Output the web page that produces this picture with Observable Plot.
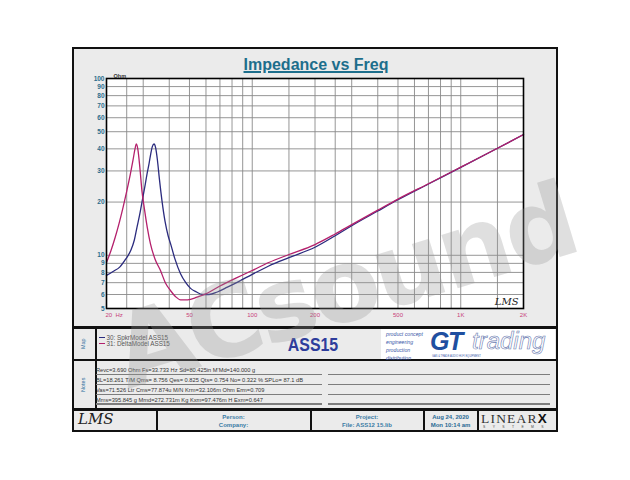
<!DOCTYPE html>
<html><head><meta charset="utf-8">
<script src="https://cdn.jsdelivr.net/npm/d3@7"></script>
<script src="https://cdn.jsdelivr.net/npm/@observablehq/plot@0.6"></script>
<style>
html,body{margin:0;padding:0;background:#fff;}
#page{position:relative;width:630px;height:480px;overflow:hidden;font-family:"Liberation Sans",Arial,sans-serif;}
.a{position:absolute;white-space:nowrap;line-height:1;}
.bk{position:absolute;background:#111;}
.rule{position:absolute;background:#7d7d7d;height:1.2px;}
.note{position:absolute;font-size:5.7px;color:#333;white-space:nowrap;line-height:1;}
.ft{position:absolute;font-size:6px;color:#3b7ca5;text-align:center;line-height:1.35;font-weight:bold;}
</style></head>
<body><div id="page">
  <div class="a" style="left:72px;top:47px;width:486px;height:385px;border:2.5px solid #111;box-sizing:border-box;background:#ebebeb;"></div>
  <div class="a" style="left:216px;top:56.5px;width:200px;text-align:center;font-size:16px;font-weight:bold;color:#1d6e8c;text-decoration:underline;text-decoration-thickness:1.5px;">Impedance vs Freq</div>
  <!-- separators -->
  <div class="bk" style="left:72px;top:326px;width:486px;height:2.5px;"></div>
  <div class="bk" style="left:72px;top:359px;width:486px;height:2px;"></div>
  <div class="bk" style="left:72px;top:408px;width:486px;height:2.5px;"></div>
  <div class="bk" style="left:95px;top:327px;width:1.5px;height:82px;"></div>
  <div class="bk" style="left:156px;top:409px;width:1.5px;height:22px;"></div>
  <div class="bk" style="left:310px;top:409px;width:1.5px;height:22px;"></div>
  <div class="bk" style="left:423px;top:409px;width:1.5px;height:22px;"></div>
  <div class="bk" style="left:477px;top:409px;width:1.5px;height:22px;"></div>
  <!-- map row -->
  <div class="a" style="left:74px;top:341px;width:20px;text-align:center;font-size:5.5px;color:#2b6d9c;transform:rotate(-90deg);">Map</div>
  <div id="legend"></div>
  <div class="a" style="left:263px;top:336px;width:100px;text-align:center;font-size:18.5px;font-weight:bold;color:#2e3d9c;transform:scaleX(0.86);">ASS15</div>
  <div class="a" style="left:381px;top:328.5px;width:174px;height:30.5px;background:#fff;"></div>
  <div class="a" style="left:386px;top:329.5px;font-size:5.2px;font-style:italic;color:#3a58a8;line-height:8.1px;">product concept<br>engineering<br>production<br>distribution</div>
  <div class="a" style="left:430px;top:331px;font-size:25px;line-height:21px;font-weight:bold;font-style:italic;color:#1f4fa0;letter-spacing:-1.5px;">GT</div>
  <div class="a" style="left:472px;top:330px;font-size:24px;line-height:21px;font-style:italic;color:#fff;-webkit-text-stroke:0.6px #6a7bb0;">trading</div>
  <div class="a" style="left:432px;top:356.4px;font-size:2.6px;color:#3a58a8;">GAS &amp; TRADE AUDIO HI-FI EQUIPMENT</div>
  <!-- notes -->
  <div class="a" style="left:74px;top:382px;width:20px;text-align:center;font-size:5.5px;color:#2b6d9c;transform:rotate(-90deg);">Notes</div>
  <div id="notes"></div>
  <!-- footer -->
  <div class="a" style="left:78px;top:412px;font-size:15px;font-style:italic;font-family:'DejaVu Serif',serif;color:#222;font-weight:300;">LMS</div>
  <div class="ft" style="left:157px;top:413px;width:153px;">Person:<br>Company:</div>
  <div class="ft" style="left:311px;top:413px;width:112px;">Project:<br>File: ASS12 15.lib</div>
  <div class="ft" style="left:424px;top:413px;width:53px;color:#2a6a95;">Aug 24, 2020<br>Mon 10:14 am</div>
  <div class="a" style="left:481px;top:412px;font-size:13.5px;font-family:'Liberation Serif',serif;color:#333;letter-spacing:1.2px;">LINEAR<b style="color:#111;font-family:'Liberation Sans',sans-serif;font-weight:900;">X</b></div>
  <div class="a" style="left:483px;top:425.5px;font-size:3.4px;color:#444;letter-spacing:7.4px;">SYSTEMS</div>
  <div id="chart"></div>
  <div class="a" style="left:102px;top:307px;font-size:102px;font-weight:bold;font-family:'DejaVu Sans',sans-serif;color:rgba(150,150,150,0.3);transform:rotate(-17deg);transform-origin:0 0;pointer-events:none;letter-spacing:-4px;">ACsound</div>
</div>
<script>
// ---- data ----
const seriesNames = ["30: SpkrModel ASS15", "31: DeltaModel ASS15"];
const seriesColors = ["#2b2b7e", "#b4206c"];

const spkrFreq = [20, 21.5, 23.2, 24.7, 26.1, 27.2, 28.0, 28.8, 29.6, 30.5, 31.3, 32.0, 32.6, 33.2, 33.8, 34.4, 35.1, 35.9, 36.9, 38.2, 39.5, 40.6, 42.5, 45.3, 48, 50.6, 54, 57.6, 62, 68, 76, 86, 100, 120, 150, 200, 250, 300, 400, 500, 700, 1000, 1500, 2000];
const spkrOhm  = [7.7, 8.1, 8.6, 9.5, 10.6, 12.2, 14.4, 16.8, 20, 24.2, 28.9, 33, 37.5, 41.3, 42.6, 40.6, 34.5, 26.8, 20.4, 15.5, 12.9, 11.6, 9.6, 7.86, 7.0, 6.5, 6.2, 6.0, 6.0, 6.2, 6.6, 7.1, 7.8, 8.7, 9.7, 11.1, 12.9, 14.7, 17.8, 20.6, 25.3, 31.4, 40.3, 48.2];

const deltaFreq = [20, 21, 22, 23, 24, 25, 26, 26.8, 27.4, 27.8, 28.3, 28.9, 29.6, 30.4, 31.4, 32.5, 34.2, 36.3, 38.3, 40.6, 42.8, 45.3, 49, 54.4, 60.8, 70, 85, 100, 120, 150, 200, 250, 300, 400, 500, 700, 1000, 1500, 2000];
const deltaOhm  = [9.1, 10.6, 12.6, 15.2, 18.6, 23, 28.6, 34.5, 40, 42.6, 39.5, 31.5, 23, 18.3, 14.3, 11.6, 9.5, 8.2, 7.0, 6.3, 5.85, 5.6, 5.6, 5.8, 6.1, 6.7, 7.5, 8.2, 9.1, 10.1, 11.5, 13.2, 14.9, 18.0, 20.8, 25.4, 31.5, 40.3, 48.2];

const xGrid = [20, 25, 30, 40, 50, 60, 70, 80, 90, 100, 150, 200, 250, 300, 400, 500, 600, 700, 800, 900, 1000, 1500, 2000];
const yGrid = [5, 6, 7, 8, 9, 10, 20, 30, 40, 50, 60, 70, 80, 90, 100];
const xTickValues = [20, 50, 100, 200, 500, 1000, 2000];
const xTickLabels = ["20  Hz", "50", "100", "200", "500", "1K", "2K"];
const yTickValues = [5, 6, 7, 8, 9, 10, 20, 30, 40, 50, 60, 70, 80, 90, 100];

const notesLines = [
  "Revc=3.690 Ohm  Fs=33.733 Hz  Sd=80.425in  M'Md=140.000 g",
  "BL=18.261 T/M  Qms= 8.756  Qes= 0.825  Qts= 0.754  No= 0.322 %  SPLo= 87.1 dB",
  "Vas=71.526 Ltr  Cms=77.874u M/N  Krm=32.106m Ohm  Erm=0.709",
  "Mms=395.845 g  Mmd=272.731m Kg  Kxm=97.476m H  Exm=0.647"
];

// ---- chart ----
const spkr = spkrFreq.map((f, i) => ({f, z: spkrOhm[i], s: seriesNames[0]}));
const delta = deltaFreq.map((f, i) => ({f, z: deltaOhm[i], s: seriesNames[1]}));
const xLabelStyle = {fontSize: 6, fill: "#c8407a", frameAnchor: "bottom", lineAnchor: "top", dy: 4};

const chart = Plot.plot({
  width: 630, height: 480,
  marginLeft: 106, marginRight: 107, marginTop: 78, marginBottom: 172,
  style: {background: "transparent", fontFamily: "'Liberation Sans', Arial, sans-serif", position: "absolute", left: "0px", top: "0px", overflow: "visible"},
  x: {type: "log", domain: [20, 2000], axis: null},
  y: {type: "log", domain: [5, 100], axis: null},
  color: {domain: seriesNames, range: seriesColors},
  marks: [
    Plot.frame({fill: "#ffffff", stroke: "none"}),
    Plot.ruleX(xGrid, {stroke: "#8a8a8a", strokeWidth: 0.9}),
    Plot.ruleY(yGrid, {stroke: "#8a8a8a", strokeWidth: 0.9}),
    Plot.line(spkr, {x: "f", y: "z", stroke: "s", strokeWidth: 1.3, curve: "monotone-x"}),
    Plot.line(delta, {x: "f", y: "z", stroke: "s", strokeWidth: 1.3, curve: "monotone-x"}),
    Plot.frame({stroke: "#000", strokeWidth: 1.6}),
    Plot.text(yTickValues, {y: d => d, text: d => String(d), frameAnchor: "left", textAnchor: "end", dx: -2, fontSize: 6.5, fontWeight: "bold", fill: "#2b6d8c"}),
    Plot.text(xTickValues.slice(1), {...xLabelStyle, x: d => d, text: (d, i) => xTickLabels[i + 1]}),
    Plot.text(xTickValues.slice(0, 1), {...xLabelStyle, x: d => d, text: () => xTickLabels[0], textAnchor: "start", dx: -1}),
    Plot.text(["Ohm"], {text: d => d, frameAnchor: "top-left", textAnchor: "start", lineAnchor: "bottom", dx: 7, dy: -1, fontSize: 5.5, fontWeight: "bold", fill: "#333"}),
    Plot.text(["LMS"], {text: d => d, frameAnchor: "bottom-right", textAnchor: "end", lineAnchor: "bottom", dx: -5, dy: -4, fontSize: 10, fontStyle: "italic", fontFamily: "'DejaVu Serif', serif", fill: "#222"})
  ]
});
document.getElementById("chart").appendChild(chart);

// ---- legend in map row ----
const leg = document.getElementById("legend");
seriesNames.forEach((name, i) => {
  const y = 337.5 + i * 6.2;
  const ln = document.createElement("div");
  ln.className = "a";
  ln.style.cssText = `left:99px;top:${y - 0.6}px;width:6px;height:1.3px;background:${seriesColors[i]};`;
  leg.appendChild(ln);
  const tx = document.createElement("div");
  tx.className = "a";
  tx.style.cssText = `left:106.5px;top:${y - 3}px;font-size:6.3px;color:#555;`;
  tx.textContent = name;
  leg.appendChild(tx);
});

// ---- notes ----
const nt = document.getElementById("notes");
notesLines.forEach((t, i) => {
  const base = 373.2 + i * 9.8;
  const d = document.createElement("div");
  d.className = "note";
  d.style.left = "96px";
  d.style.top = (base - 4.8) + "px";
  d.textContent = t;
  nt.appendChild(d);
  [[96, 226], [328, 222]].forEach(([x, w]) => {
    const r = document.createElement("div");
    r.className = "rule";
    r.style.left = x + "px"; r.style.top = (base + 0.8) + "px"; r.style.width = w + "px";
    nt.appendChild(r);
  });
});
</script>
</body></html>
